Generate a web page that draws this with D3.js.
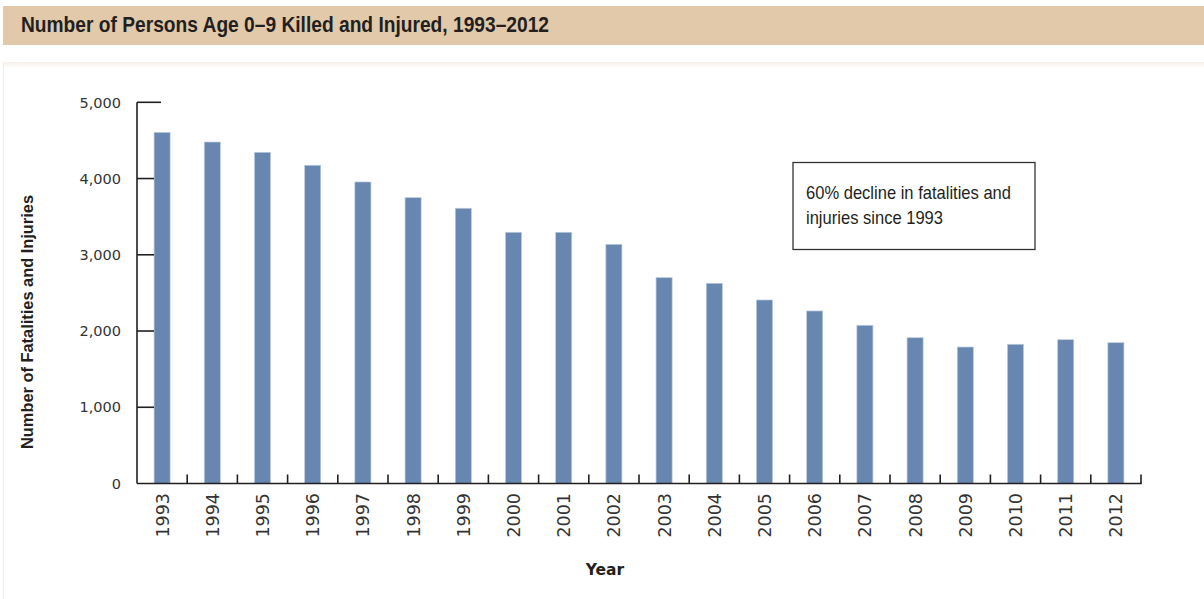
<!DOCTYPE html>
<html>
<head>
<meta charset="utf-8">
<script src="https://cdn.jsdelivr.net/npm/d3@7"></script>
<style>
  html, body { margin: 0; padding: 0; background: #ffffff; }
  svg { display: block; }
  .cond { font-family: "Liberation Sans Narrow", "Arial Narrow", "Liberation Sans", sans-serif; font-stretch: condensed; }
  .sans { font-family: "DejaVu Sans", Verdana, sans-serif; }
</style>
</head>
<body>
<svg id="chart" width="1204" height="599"></svg>
<script>
// Persons age 0–9 killed and injured, by year
const years = ["1993","1994","1995","1996","1997","1998","1999","2000","2001","2002",
               "2003","2004","2005","2006","2007","2008","2009","2010","2011","2012"];
const casualties = [4606, 4479, 4344, 4174, 3955, 3749, 3610, 3295, 3295, 3137,
                    2700, 2626, 2407, 2263, 2075, 1912, 1790, 1826, 1886, 1847];
const yTicks = [0, 1000, 2000, 3000, 4000, 5000];

const titleText = "Number of Persons Age 0\u20139 Killed and Injured, 1993\u20132012";
const yTitle = "Number of Fatalities and Injuries";
const xTitle = "Year";
const noteLines = ["60% decline in fatalities and", "injuries since 1993"];

const svg = d3.select("#chart");

// header band
svg.append("rect").attr("x", 3).attr("y", 6).attr("width", 1201).attr("height", 39)
  .attr("fill", "#e1c9aa");
svg.append("text").attr("class", "cond")
  .attr("x", 21).attr("y", 32)
  .attr("font-size", 22).attr("font-weight", "bold").attr("fill", "#231f20")
  .attr("textLength", 528).attr("lengthAdjust", "spacingAndGlyphs")
  .text(titleText);

// chart panel with a soft top edge
const defs = svg.append("defs");
const grad = defs.append("linearGradient").attr("id", "panelShade")
  .attr("x1", 0).attr("y1", 0).attr("x2", 0).attr("y2", 1);
grad.append("stop").attr("offset", "0%").attr("stop-color", "#f6efe8");
grad.append("stop").attr("offset", "100%").attr("stop-color", "#ffffff");
svg.append("rect").attr("x", 3).attr("y", 62).attr("width", 1201).attr("height", 6)
  .attr("fill", "url(#panelShade)");
svg.append("line").attr("x1", 3.5).attr("x2", 3.5).attr("y1", 64).attr("y2", 599)
  .attr("stroke", "#f4ece4").attr("stroke-width", 1);

// scales
const x0 = 137, x1 = 1141, yBase = 483.5, yTop = 102.3;
const x = d3.scaleBand().domain(years).range([x0, x1])
  .paddingInner(0.68).paddingOuter(0.34);
const y = d3.scaleLinear().domain([0, 5000]).range([yBase, yTop]);

// bars
svg.append("g").selectAll("rect").data(casualties).join("rect")
  .attr("x", (d, i) => x(years[i]))
  .attr("y", d => y(d))
  .attr("width", x.bandwidth())
  .attr("height", d => yBase - y(d))
  .attr("fill", "#6787b0")
  .attr("stroke", "#bccbdf").attr("stroke-width", 0.7);

// y axis line and inward ticks
const axisColor = "#231f20";
svg.append("line").attr("x1", x0).attr("x2", x0).attr("y1", y(5000)).attr("y2", yBase)
  .attr("stroke", axisColor).attr("stroke-width", 1.6);
svg.append("g").selectAll("line").data(yTicks.filter(t => t > 0)).join("line")
  .attr("x1", x0).attr("x2", t => t === 5000 ? x0 + 24 : x0 + 17)
  .attr("y1", t => y(t)).attr("y2", t => y(t))
  .attr("stroke", axisColor).attr("stroke-width", 1.6);
svg.append("g").selectAll("text").data(yTicks).join("text")
  .attr("class", "sans")
  .attr("x", 121).attr("y", t => y(t)).attr("dy", "0.36em")
  .attr("text-anchor", "end").attr("font-size", 14.5).attr("fill", "#333")
  .text(d3.format(","));

// x axis line, category boundary ticks
svg.append("line").attr("x1", x0).attr("x2", x1 + 0.8).attr("y1", yBase).attr("y2", yBase)
  .attr("stroke", axisColor).attr("stroke-width", 1.6);
svg.append("g").selectAll("line").data(years).join("line")
  .attr("x1", (d, i) => x0 + (i + 1) * x.step())
  .attr("x2", (d, i) => x0 + (i + 1) * x.step())
  .attr("y1", yBase).attr("y2", yBase - 9)
  .attr("stroke", axisColor).attr("stroke-width", 1.6);
svg.append("g").selectAll("text").data(years).join("text")
  .attr("class", "sans")
  .attr("transform", d => `translate(${x(d) + x.bandwidth() / 2 + 6.5},493) rotate(-90)`)
  .attr("text-anchor", "end").attr("font-size", 17.5).attr("fill", "#333")
  .text(d => d);

// axis titles
svg.append("text").attr("class", "sans")
  .attr("x", (x0 + x1) / 2 - 34).attr("y", 575)
  .attr("text-anchor", "middle").attr("font-size", 15.5).attr("font-weight", "bold")
  .attr("fill", "#231f20").text(xTitle);
svg.append("text").attr("class", "cond")
  .attr("transform", "translate(33,322) rotate(-90)")
  .attr("text-anchor", "middle").attr("font-size", 17).attr("font-weight", "bold")
  .attr("fill", "#231f20")
  .attr("textLength", 254).attr("lengthAdjust", "spacingAndGlyphs")
  .text(yTitle);

// annotation box
svg.append("rect").attr("x", 793).attr("y", 162.5).attr("width", 242).attr("height", 87)
  .attr("fill", "#ffffff").attr("stroke", "#333").attr("stroke-width", 1.3);
const noteLens = [205, 137];
svg.append("g").selectAll("text").data(noteLines).join("text")
  .attr("class", "cond")
  .attr("x", 806).attr("y", (d, i) => 199 + i * 25)
  .attr("font-size", 19).attr("fill", "#231f20")
  .attr("textLength", (d, i) => noteLens[i]).attr("lengthAdjust", "spacingAndGlyphs")
  .text(d => d);
</script>
</body>
</html>
